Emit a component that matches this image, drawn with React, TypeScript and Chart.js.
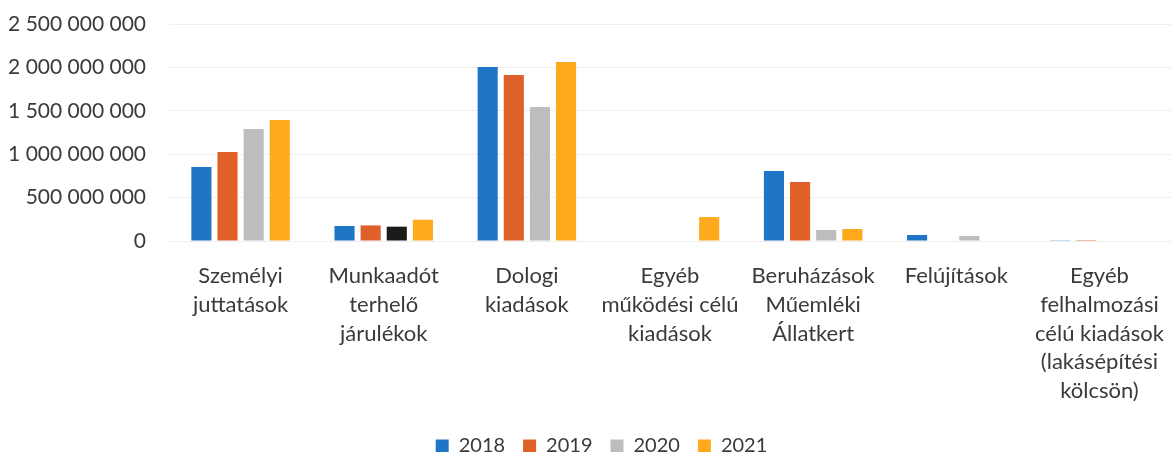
import React, { useEffect, useRef } from "react";
import { Chart, registerables } from "chart.js";

Chart.register(...registerables);

const categories: string[][] = [
  ["Személyi", "juttatások"],
  ["Munkaadót", "terhelő", "járulékok"],
  ["Dologi", "kiadások"],
  ["Egyéb", "működési célú", "kiadások"],
  ["Beruházások", "Műemléki", "Állatkert"],
  ["Felújítások"],
  ["Egyéb", "felhalmozási", "célú kiadások", "(lakásépítési", "kölcsön)"],
];

const seriesNames = ["2018", "2019", "2020", "2021"];

const values2018 = [852e6, 173e6, 2005e6, 0, 806e6, 69e6, 3e6];
const values2019 = [1025e6, 180e6, 1912e6, 0, 680e6, 0, 1e6];
const values2020 = [1290e6, 165e6, 1544e6, 0, 127e6, 58e6, 0];
const values2021 = [1394e6, 245e6, 2062e6, 276e6, 138e6, 0, 0];

const yTicks = [0, 500e6, 1000e6, 1500e6, 2000e6, 2500e6];

const colors = ["#1f76c6", "#e0602a", "#bdbdbd", "#ffaa1c"];
// the 2020 bar of the second category appears black in the picture
const colors2020 = ["#bdbdbd", "#1b1b1b", "#bdbdbd", "#bdbdbd", "#bdbdbd", "#bdbdbd", "#bdbdbd"];

const FONT = "Lato, 'Open Sans', sans-serif";
const TEXT = "#3a3a3a";

const legendShift = {
  id: "legendShift",
  afterLayout(chart: any) {
    const l = chart.legend;
    if (!l) return;
    const dx = 16;
    const dy = 14;
    l.left += dx;
    l.right += dx;
    l.top += dy;
    l.bottom += dy;
  },
};

export default function App() {
  const ref = useRef<HTMLCanvasElement | null>(null);

  useEffect(() => {
    document.body.style.margin = "0";
    const canvas = ref.current;
    if (!canvas) return;
    const all = [values2018, values2019, values2020, values2021];
    const chart = new Chart(canvas, {
      type: "bar",
      data: {
        labels: categories,
        datasets: seriesNames.map((name, i) => ({
          label: name,
          data: all[i],
          backgroundColor: i === 2 ? colors2020 : colors[i],
          borderWidth: 0,
          barPercentage: 0.77,
          categoryPercentage: 0.73,
        })),
      },
      options: {
        animation: false,
        responsive: false,
        layout: { padding: { top: 24, left: 0, right: 0, bottom: 0 } },
        plugins: {
          legend: {
            position: "bottom",
            labels: {
              boxWidth: 13,
              boxHeight: 13,
              padding: 18,
              color: TEXT,
              font: { family: FONT, size: 20 },
              generateLabels: (c: any) =>
                seriesNames.map((n, i) => ({
                  text: n,
                  fillStyle: colors[i],
                  strokeStyle: colors[i],
                  lineWidth: 0,
                  hidden: false,
                  datasetIndex: i,
                  fontColor: TEXT,
                })),
            },
          },
          tooltip: { enabled: false },
        },
        scales: {
          x: {
            grid: { display: false, drawTicks: false },
            border: { display: false },
            ticks: {
              color: TEXT,
              font: { family: FONT, size: 22, lineHeight: 1.3 },
              padding: 21,
              maxRotation: 0,
              autoSkip: false,
            },
            afterFit: (s: any) => {
              s.height = 163;
              s.paddingLeft = 0;
              s.paddingRight = 0;
            },
          },
          y: {
            min: 0,
            max: 2500e6,
            afterBuildTicks: (s: any) => {
              s.ticks = yTicks.map((v) => ({ value: v }));
            },
            grid: { color: "#efefef", drawTicks: false, lineWidth: 1 },
            border: { display: false },
            ticks: {
              color: TEXT,
              font: { family: FONT, size: 21 },
              padding: 23,
              callback: (v: any) =>
                String(Math.round(Number(v))).replace(/\B(?=(\d{3})+(?!\d))/g, " "),
            },
            afterFit: (s: any) => {
              s.width = 169;
              s.paddingTop = 0;
              s.paddingBottom = 0;
            },
          },
        },
      },
      plugins: [legendShift],
    });
    return () => chart.destroy();
  }, []);

  return (
    <div style={{ width: 1171, height: 452 }}>
      <canvas ref={ref} width={1171} height={452} />
    </div>
  );
}
